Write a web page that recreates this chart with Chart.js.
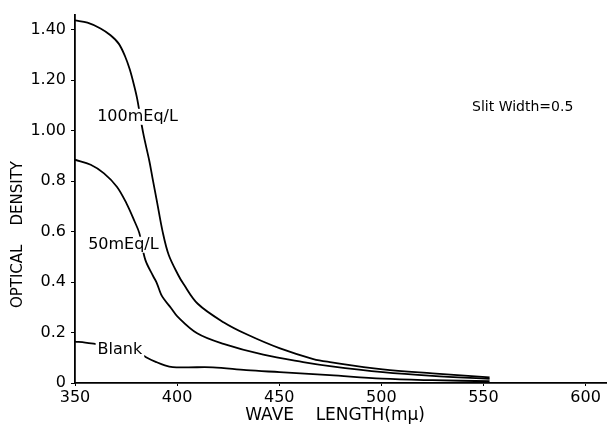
<!DOCTYPE html>
<html>
<head>
<meta charset="utf-8">
<script src="https://cdn.jsdelivr.net/npm/chart.js@4/dist/chart.umd.min.js"></script>
<style>
  html, body { margin: 0; padding: 0; background: #fff; }
  #wrap { width: 607px; height: 424px; position: relative; }
</style>
</head>
<body>
<div id="wrap"><canvas id="c" width="607" height="424"></canvas></div>
<script>
// ---- data ----
const wl100 = [350, 356.1, 362.5, 367.4, 371.4, 374.5, 376.8, 379, 380.5, 383.4, 386.4, 388, 390, 392.9, 395.9, 400.6, 403, 410.1, 422.9, 434.3, 450.4, 466.7, 474.8, 500.7, 525, 553];
const od100 = [1.437, 1.428, 1.405, 1.378, 1.345, 1.295, 1.243, 1.177, 1.124, 0.99, 0.88, 0.81, 0.725, 0.60, 0.507, 0.427, 0.394, 0.314, 0.240, 0.192, 0.137, 0.095, 0.083, 0.054, 0.038, 0.022];

const wl50 = [350, 357.7, 364.2, 370.5, 375.2, 379.2, 381.5, 384.4, 388.3, 390, 392.2, 394, 397, 400.1, 409.8, 422.7, 442.2, 461.7, 474.8, 500.7, 525, 553];
const od50 = [0.885, 0.865, 0.831, 0.778, 0.712, 0.640, 0.594, 0.489, 0.423, 0.397, 0.35, 0.328, 0.297, 0.264, 0.197, 0.155, 0.112, 0.083, 0.067, 0.043, 0.028, 0.016];

const wlBlank = [350, 355, 359.8, 366, 372, 377, 381.7, 385.5, 389.8, 394, 397.9, 405, 417.5, 433.9, 450.2, 474.7, 500.5, 525, 553];
const odBlank = [0.164, 0.16, 0.155, 0.148, 0.138, 0.128, 0.117, 0.099, 0.083, 0.070, 0.063, 0.062, 0.062, 0.051, 0.043, 0.031, 0.017, 0.011, 0.007];

const seriesNames = ['100mEq/L', '50mEq/L', 'Blank'];
const xTickValues = [350, 400, 450, 500, 550, 600];
const yTickValues = [0, 0.2, 0.4, 0.6, 0.8, 1.0, 1.2, 1.4];
const yTickLabels = ['0', '0.2', '0.4', '0.6', '0.8', '1.00', '1.20', '1.40'];
const noteText = 'Slit Width=0.5';

// in-plot labels (anchored in data coordinates)
const plotLabels = [
  { text: seriesNames[0], x: 380.6, y: 1.055 },
  { text: seriesNames[1], x: 373.7, y: 0.548 },
  { text: seriesNames[2], x: 372, y: 0.13 },
  { text: noteText, x: 569.2, y: 1.094, noBox: true, size: 14 }
];

const toPts = (xs, ys) => xs.map((x, i) => ({ x, y: ys[i] }));
const FONT = '"DejaVu Sans", sans-serif';

const labelPlugin = {
  id: 'plotLabels',
  afterDatasetsDraw(chart) {
    const ctx = chart.ctx, xs = chart.scales.x, ys = chart.scales.y;
    ctx.save();
    plotLabels.forEach(l => {
      const px = xs.getPixelForValue(l.x), py = ys.getPixelForValue(l.y);
      ctx.font = (l.size || 16) + 'px ' + FONT;
      ctx.textAlign = 'center';
      ctx.textBaseline = 'middle';
      const w = ctx.measureText(l.text).width;
      if (!l.noBox) {
        ctx.fillStyle = '#fff';
        ctx.fillRect(px - w / 2 - 2, py - 8, w + 4, 16);
      }
      ctx.fillStyle = '#000';
      ctx.fillText(l.text, px, py);
    });
    ctx.restore();
  }
};

const lineDs = (label, xs, ys) => ({
  label,
  data: toPts(xs, ys),
  borderColor: '#000',
  borderWidth: 1.8,
  pointRadius: 0,
  fill: false,
  tension: 0.35
});

new Chart(document.getElementById('c'), {
  type: 'line',
  data: {
    datasets: [
      lineDs(seriesNames[0], wl100, od100),
      lineDs(seriesNames[1], wl50, od50),
      lineDs(seriesNames[2], wlBlank, odBlank)
    ]
  },
  options: {
    responsive: false,
    animation: false,
    devicePixelRatio: 1,
    layout: { padding: { left: 0, right: 1, top: 10, bottom: 0 } },
    plugins: { legend: { display: false }, tooltip: { enabled: false } },
    scales: {
      x: {
        type: 'linear',
        min: 350,
        max: 610,
        afterBuildTicks: s => { s.ticks = xTickValues.map(v => ({ value: v })); },
        afterFit: s => { s.height = 41; },
        border: { display: true, color: '#000', width: 1.8 },
        grid: { display: true, drawOnChartArea: false, drawTicks: true, tickLength: 3, color: '#000' },
        ticks: { color: '#000', font: { family: FONT, size: 16 }, padding: 2, maxRotation: 0, autoSkip: false },
        title: {
          display: true,
          text: 'WAVE    LENGTH(mμ)  ',
          color: '#000',
          font: { family: FONT, size: 17, lineHeight: 1 },
          padding: { top: 0, bottom: 0 }
        }
      },
      y: {
        type: 'linear',
        min: 0,
        max: 1.46,
        afterBuildTicks: s => { s.ticks = yTickValues.map(v => ({ value: v })); },
        afterFit: s => { s.width = 75; },
        border: { display: true, color: '#000', width: 1.8 },
        grid: { display: true, drawOnChartArea: false, drawTicks: true, tickLength: 4, color: '#000' },
        ticks: {
          color: '#000',
          font: { family: FONT, size: 16 },
          padding: 5,
          autoSkip: false,
          callback: v => {
            const i = yTickValues.findIndex(t => Math.abs(t - v) < 1e-6);
            return i >= 0 ? yTickLabels[i] : '';
          }
        },
        title: {
          display: true,
          text: 'OPTICAL    DENSITY' + ' '.repeat(15),
          color: '#000',
          font: { family: FONT, size: 15, lineHeight: 1 },
          padding: { top: 11, bottom: 0 }
        }
      }
    }
  },
  plugins: [labelPlugin]
});
</script>
</body>
</html>
